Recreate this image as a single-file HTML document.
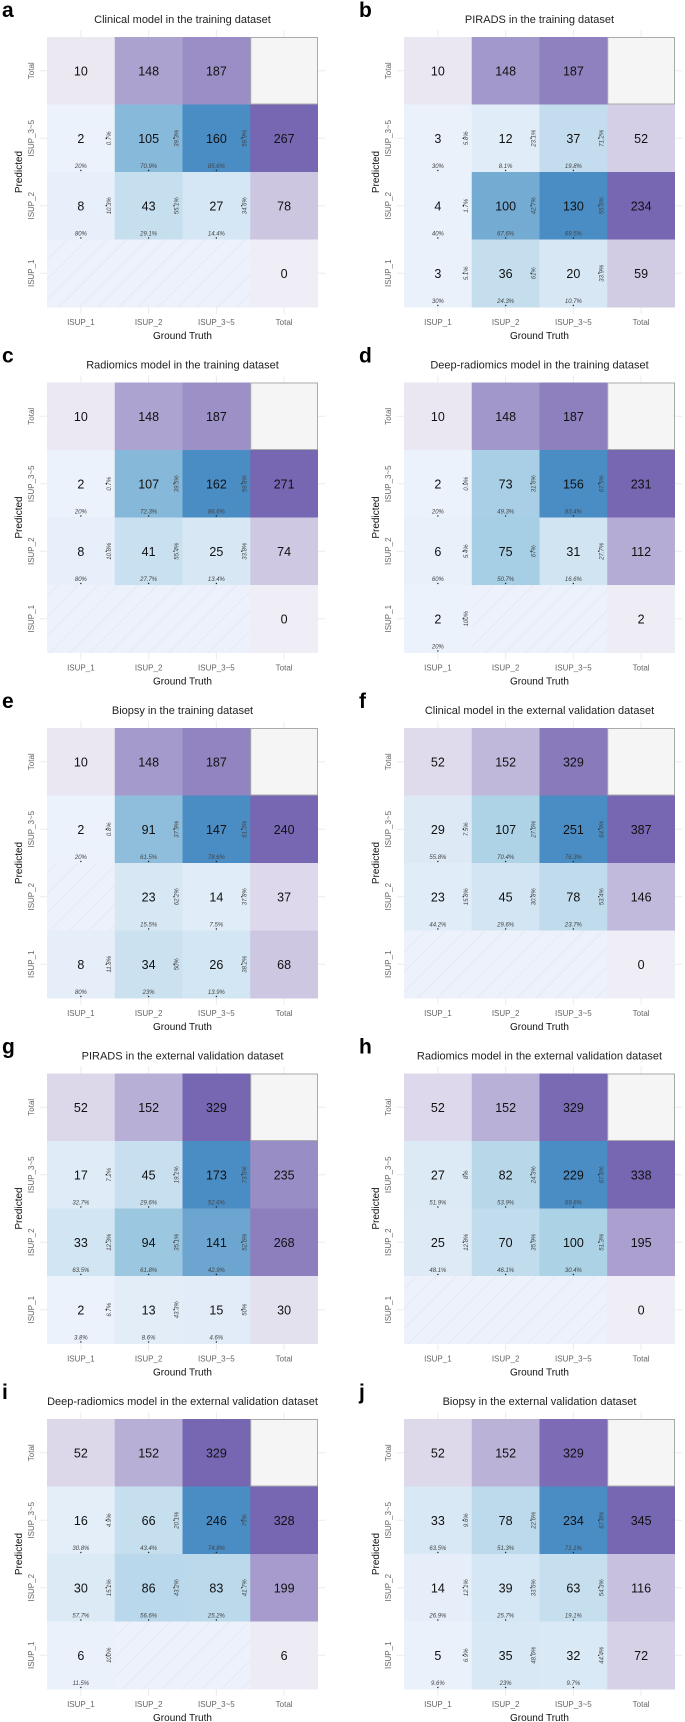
<!DOCTYPE html>
<html><head><meta charset="utf-8"><style>
body{margin:0;background:#fff;}
svg{display:block;font-family:"Liberation Sans",Arial,sans-serif;}
</style></head><body>
<svg id="fig" width="685" height="1722" viewBox="0 0 685 1722" xmlns="http://www.w3.org/2000/svg">
<defs>
<pattern id="hatch" patternUnits="userSpaceOnUse" width="14" height="14" patternTransform="rotate(-45)">
<rect width="14" height="14" fill="#edf1fb"/>
<line x1="0" y1="7" x2="14" y2="7" stroke="#dde2ee" stroke-width="0.5"/>
</pattern>
</defs>
</svg>
<script>
const panelLetters=["a","b","c","d","e","f","g","h","i","j"];
const panelTitles=["Clinical model in the training dataset","PIRADS in the training dataset","Radiomics model in the training dataset","Deep-radiomics model in the training dataset","Biopsy in the training dataset","Clinical model in the external validation dataset","PIRADS in the external validation dataset","Radiomics model in the external validation dataset","Deep-radiomics model in the external validation dataset","Biopsy in the external validation dataset"];
const colLabels=["ISUP_1","ISUP_2","ISUP_3~5","Total"];
const rowLabels=["Total","ISUP_3~5","ISUP_2","ISUP_1"];
// rows: ISUP_3~5, ISUP_2, ISUP_1 ; columns: ISUP_1, ISUP_2, ISUP_3~5
const matA=[[2,105,160],[8,43,27],[0,0,0]];
const matB=[[3,12,37],[4,100,130],[3,36,20]];
const matC=[[2,107,162],[8,41,25],[0,0,0]];
const matD=[[2,73,156],[6,75,31],[2,0,0]];
const matE=[[2,91,147],[0,23,14],[8,34,26]];
const matF=[[29,107,251],[23,45,78],[0,0,0]];
const matG=[[17,45,173],[33,94,141],[2,13,15]];
const matH=[[27,82,229],[25,70,100],[0,0,0]];
const matI=[[16,66,246],[30,86,83],[6,0,0]];
const matJ=[[33,78,234],[14,39,63],[5,35,32]];
const matrices=[matA,matB,matC,matD,matE,matF,matG,matH,matI,matJ];

const svg=document.getElementById('fig');
const NS="http://www.w3.org/2000/svg";
function mk(tag,attrs,parent){const e=document.createElementNS(NS,tag);for(const k in attrs)e.setAttribute(k,attrs[k]);(parent||svg).appendChild(e);return e;}
function lerp(a,b,t){return a.map((v,i)=>Math.round(v+(b[i]-v)*t));}
function hex(c){return '#'+c.map(v=>v.toString(16).padStart(2,'0')).join('');}
function blue(t){const c0=[238,243,252],c1=[163,205,227],c2=[74,141,197];return hex(t<0.5?lerp(c0,c1,t/0.5):lerp(c1,c2,(t-0.5)/0.5));}
function purple(t){return hex(lerp([239,237,245],[119,102,178],t));}
function pct(v){let s=(Math.round(v*1000)/10).toFixed(1);if(s.endsWith('.0'))s=s.slice(0,-2);return s+'%';}

const CW=67.75,CH=67.5;
matrices.forEach((m,p)=>{
  const ox=(p%2)*357, oy=Math.floor(p/2)*345.5;
  const gx=ox+47, gy=oy+37;
  const g=mk('g',{});
  
  
  const colTot=[0,1,2].map(j=>m.reduce((s,r)=>s+r[j],0));
  const rowTot=m.map(r=>r.reduce((s,v)=>s+v,0));
  const maxTot=Math.max(...colTot,...rowTot);
  const maxCell=Math.max(...m.flat());
  for(let j=0;j<4;j++){const l=mk('line',{x1:gx+CW*(j+.5),x2:gx+CW*(j+.5),y1:gy-7,y2:gy+4*CH+7,stroke:'#ececec','stroke-width':1},g);}
  for(let i=0;i<4;i++){const l=mk('line',{x1:gx-7,x2:gx+4*CW+7,y1:gy+CH*(i+.5),y2:gy+CH*(i+.5),stroke:'#ececec','stroke-width':1},g);}
  const L=mk('text',{x:ox+2,y:oy+17,'font-size':21,'font-weight':'bold',fill:'#000'},g);L.textContent=panelLetters[p];
  
  const T=mk('text',{x:gx+2*CW,y:oy+23,'font-size':11,'text-anchor':'middle',fill:'#222'},g);T.textContent=panelTitles[p];
  
  for(let j=0;j<4;j++){
    const x=gx+j*CW,y=gy;
    if(j<3){
      const r=mk('rect',{x:x,y:y,width:CW+0.5,height:CH+0.5,fill:purple(colTot[j]/maxTot)},g);
      
      const t=mk('text',{x:x+CW/2,y:y+CH/2+4.5,'font-size':12.5,'text-anchor':'middle',fill:'#111'},g);t.textContent=colTot[j];
      
    }else{
      const r=mk('rect',{x:x+0.5,y:y+0.5,width:CW-1,height:CH-1,fill:'#f5f5f5',stroke:'#aaa','stroke-width':1},g);
      
    }
  }
  for(let i=0;i<3;i++){
    const y=gy+(i+1)*CH;
    for(let j=0;j<3;j++){
      const x=gx+j*CW,v=m[i][j];
      const r=mk('rect',{x:x,y:y,width:CW+0.5,height:CH+0.5,fill:v===0?'url(#hatch)':blue(v/maxCell)},g);
      
      if(v>0){
        const t=mk('text',{x:x+CW/2,y:y+CH/2+4.5,'font-size':12.5,'text-anchor':'middle',fill:'#111'},g);t.textContent=v;
        
        const rp=mk('text',{x:0,y:0,'font-size':6,'font-style':'italic','text-anchor':'middle',fill:'#444',transform:`translate(${x+CW-4},${y+CH/2}) rotate(-90)`},g);rp.textContent=pct(v/rowTot[i]);
        
        const cp=mk('text',{x:x+CW/2,y:y+CH-4,'font-size':6,'font-style':'italic','text-anchor':'middle',fill:'#444'},g);cp.textContent=pct(v/colTot[j]);
        
        mk('circle',{cx:x+CW/2,cy:y+CH-1.5,r:0.7,fill:'#222'},g);
        mk('circle',{cx:x+CW-8.5,cy:y+CH/2,r:0.7,fill:'#222'},g);
      }
    }
    const x=gx+3*CW;
    const r=mk('rect',{x:x,y:y,width:CW,height:CH+0.5,fill:purple(rowTot[i]/maxTot)},g);
    
    const t=mk('text',{x:x+CW/2,y:y+CH/2+4.5,'font-size':12.5,'text-anchor':'middle',fill:'#111'},g);t.textContent=rowTot[i];
    
  }
  for(let i=0;i<4;i++){
    const t=mk('text',{x:0,y:0,'font-size':8,'text-anchor':'middle',fill:'#666',transform:`translate(${gx-13},${gy+CH*(i+.5)}) rotate(-90)`},g);t.textContent=rowLabels[i];
    
  }
  for(let j=0;j<4;j++){
    const t=mk('text',{x:gx+CW*(j+.5),y:gy+4*CH+18,'font-size':8,'text-anchor':'middle',fill:'#666'},g);t.textContent=colLabels[j];
    
  }
  const yt=mk('text',{x:0,y:0,'font-size':10,'text-anchor':'middle',fill:'#111',transform:`translate(${ox+22},${gy+2*CH}) rotate(-90)`},g);yt.textContent='Predicted';
  
  const xt=mk('text',{x:gx+2*CW,y:gy+4*CH+32,'font-size':10,'text-anchor':'middle',fill:'#111'},g);xt.textContent='Ground Truth';
  
});
</script>
</body></html>
